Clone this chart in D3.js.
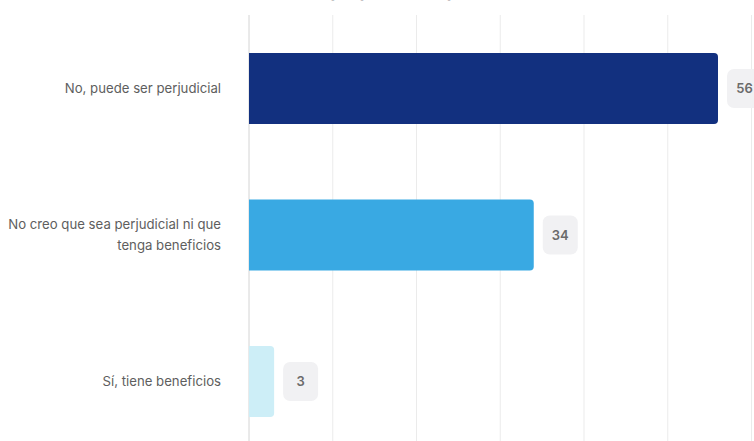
<!DOCTYPE html>
<html>
<head>
<meta charset="utf-8">
<script src="https://cdn.jsdelivr.net/npm/d3@7"></script>
<style>
  html, body { margin: 0; padding: 0; background: #fff; }
  svg { display: block; font-family: Inter, "Noto Sans", sans-serif; }
</style>
</head>
<body>
<svg id="chart" width="754" height="441"></svg>
<script>
// Survey answers and counts
const categories = [
  "No, puede ser perjudicial",
  "No creo que sea perjudicial ni que tenga beneficios",
  "Sí, tiene beneficios"
];
const values = [56, 34, 3];
const barColors = ["#12307f", "#39a9e3", "#cdeef7"];
const labelLines = [
  ["No, puede ser perjudicial"],
  ["No creo que sea perjudicial ni que", "tenga beneficios"],
  ["Sí, tiene beneficios"]
];
const gridTicks = [0, 10, 20, 30, 40, 50, 60];
const title = "¿Crees que puede ser perjudicial?";

const svg = d3.select("#chart");
const left = 249;

const x = d3.scaleLinear().domain([0, 60]).range([left, left + 502.5]);

const step = 146.5, bw = 71;
const y = d3.scaleBand()
  .domain(categories)
  .range([53 - (step - bw) / 2, 53 - (step - bw) / 2 + step * categories.length])
  .paddingInner(1 - bw / step)
  .paddingOuter((1 - bw / step) / 2);

// Title, sitting above the top edge
svg.append("text")
  .attr("x", 262).attr("y", -3)
  .attr("font-size", 17).attr("font-weight", 700)
  .attr("fill", "#111")
  .text(title);

// Vertical gridlines
svg.append("g").selectAll("line")
  .data(gridTicks)
  .join("line")
  .attr("x1", d => x(d)).attr("x2", d => x(d))
  .attr("y1", 15).attr("y2", 441)
  .attr("stroke", d => d === 0 ? "#d4d4d4" : "#ebebeb")
  .attr("stroke-width", 1);

// Bars with rounded right corners
svg.append("g").selectAll("path")
  .data(categories)
  .join("path")
  .attr("fill", (d, i) => barColors[i])
  .attr("d", (d, i) => {
    const x0 = x(0), x1 = x(values[i]), y0 = y(d), h = y.bandwidth();
    const r = Math.min(4, x1 - x0);
    return `M${x0},${y0}H${x1 - r}Q${x1},${y0} ${x1},${y0 + r}V${y0 + h - r}Q${x1},${y0 + h} ${x1 - r},${y0 + h}H${x0}Z`;
  });

// Value badges
const badge = svg.append("g").selectAll("g")
  .data(categories)
  .join("g")
  .attr("transform", (d, i) => `translate(${x(values[i]) + 9},${y(d) + y.bandwidth() / 2})`);
badge.append("rect")
  .attr("x", 0).attr("y", -19.5)
  .attr("width", 35).attr("height", 39)
  .attr("rx", 7)
  .attr("fill", "#f1f1f3");
badge.append("text")
  .attr("x", 17.5).attr("y", 0)
  .attr("dy", "0.36em")
  .attr("text-anchor", "middle")
  .attr("font-size", 13).attr("font-weight", 600)
  .attr("fill", "#6a6a6a")
  .text((d, i) => values[i]);

// Category labels
const lab = svg.append("g").selectAll("text")
  .data(categories)
  .join("text")
  .attr("text-anchor", "end")
  .attr("font-size", 13.2)
  .attr("fill", "#5e5e5e");
lab.each(function(d, i) {
  const lines = labelLines[i];
  const cy = y(d) + y.bandwidth() / 2;
  const lh = 20.5;
  const t = d3.select(this);
  lines.forEach((ln, j) => {
    t.append("tspan")
      .attr("x", 221)
      .attr("y", cy + (j - (lines.length - 1) / 2) * lh)
      .attr("dy", "0.35em")
      .text(ln);
  });
});
</script>
</body>
</html>
